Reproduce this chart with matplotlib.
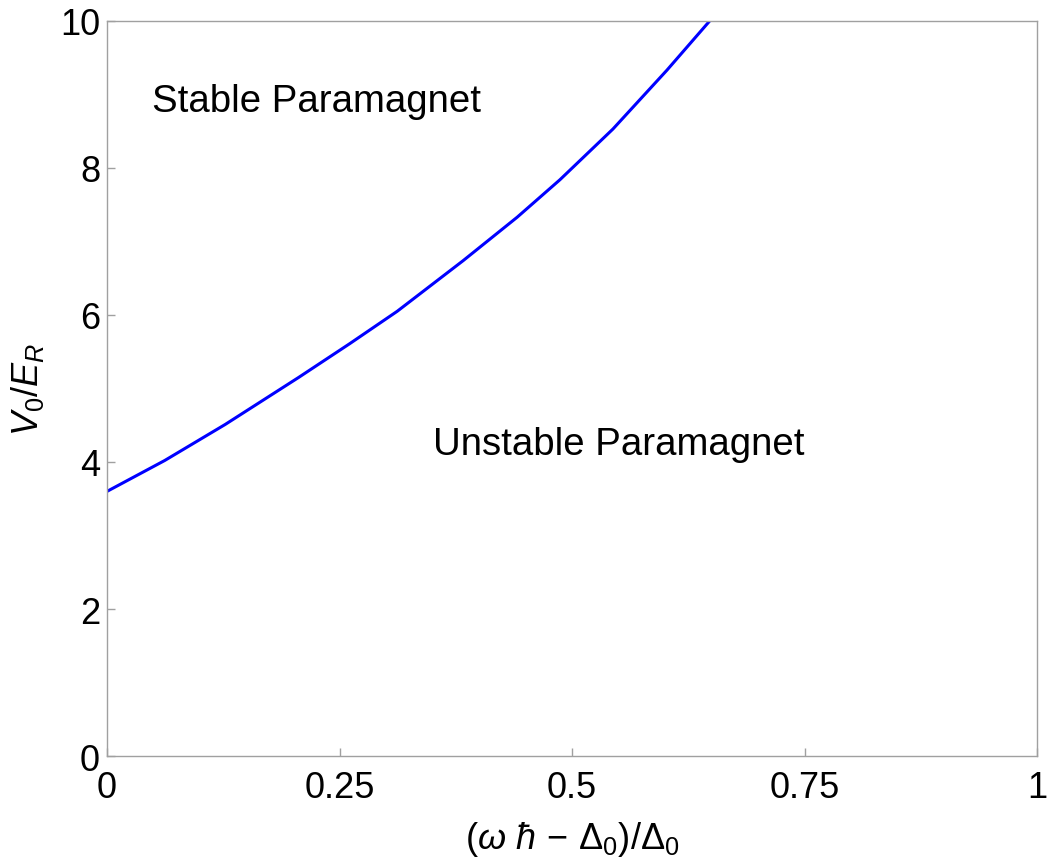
import numpy as np
import matplotlib
matplotlib.use("Agg")
import matplotlib.pyplot as plt

plt.rcParams['font.family'] = ['Liberation Sans', 'DejaVu Sans']
plt.rcParams['mathtext.fontset'] = 'custom'
plt.rcParams['mathtext.rm'] = 'Liberation Sans'
plt.rcParams['mathtext.it'] = 'Liberation Sans:italic'
plt.rcParams['mathtext.fallback'] = 'stix'

# boundary between stable / unstable paramagnet
detuning = [0.0, 0.062, 0.127, 0.206, 0.261, 0.312, 0.383, 0.441, 0.487, 0.544, 0.602, 0.648]
v0_er = [3.60, 4.02, 4.51, 5.15, 5.61, 6.05, 6.74, 7.33, 7.84, 8.53, 9.33, 10.0]

xticks = [0, 0.25, 0.5, 0.75, 1]
xticklabels = ['0', '0.25', '0.5', '0.75', '1']
yticks = [0, 2, 4, 6, 8, 10]

fig = plt.figure(figsize=(10.49, 8.62), dpi=100)
ax = fig.add_axes([0.102, 0.1218, 0.8866, 0.8527])

ax.plot(detuning, v0_er, color='#0000ff', lw=2.2, solid_capstyle='butt',
        solid_joinstyle='round')

ax.text(0.048, 8.91, 'Stable Paramagnet', fontsize=27.6, va='center', ha='left')
ax.text(0.351, 4.24, 'Unstable Paramagnet', fontsize=27.6, va='center', ha='left')

ax.set_xlim(0, 1)
ax.set_ylim(0, 10)
ax.set_xticks(xticks)
ax.set_xticklabels(xticklabels)
ax.set_yticks(yticks)

for s in ax.spines.values():
    s.set_color('#a0a0a0')
    s.set_linewidth(1.0)
ax.tick_params(direction='in', length=6, width=1, color='#a0a0a0',
               labelsize=26)
ax.tick_params(axis='x', pad=10)
ax.tick_params(axis='y', pad=5)

ax.set_xlabel(r'$(\omega\ \hbar\,-\,\Delta_0)/\Delta_0$', fontsize=26, labelpad=10)
ax.set_ylabel(r'$V_0/E_R$', fontsize=26, labelpad=10)

fig.savefig('out.png', dpi=100, facecolor='white')
